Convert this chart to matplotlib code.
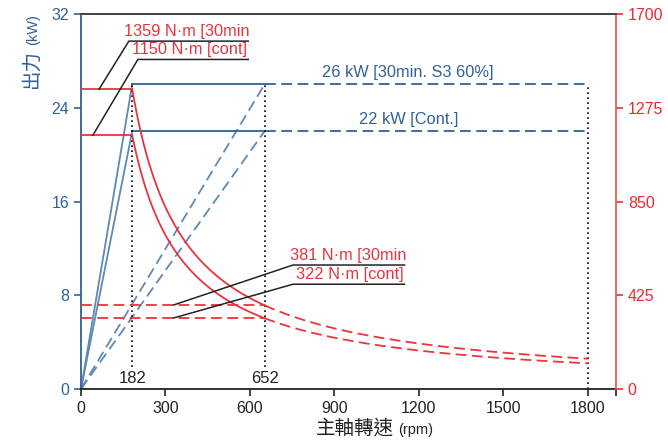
import numpy as np
import matplotlib.pyplot as plt

plt.rcParams['font.family'] = ['Liberation Sans', 'Noto Sans CJK TC', 'DejaVu Sans']

# base / corner speeds (rpm)
base_speed = 182
const_speed = 652
max_speed = 1800

# power (kW)
power_30min = 26
power_cont = 22

# torque (N·m)
torque_30min = 1359
torque_cont = 1150
torque_30min_low = 381
torque_cont_low = 322

x_ticks = [0, 300, 600, 900, 1200, 1500, 1800]
kw_ticks = [0, 8, 16, 24, 32]
nm_ticks = [0, 425, 850, 1275, 1700]

blue = '#2f6199'
blue_light = '#5f88b6'
red = '#e8343c'
red_tick = '#f0282e'
dark = '#222222'

fig = plt.figure(figsize=(6.68, 4.43), dpi=100)
ax = fig.add_axes([81 / 668, 1 - 389 / 443, 535 / 668, 375 / 443])
ax2 = ax.twinx()

# power curves
for p in [power_30min, power_cont]:
    ax.plot([0, base_speed], [0, p], color=blue_light, lw=1.3)
    ax.plot([base_speed, const_speed], [p, p], color=blue, lw=1.3)
    ax.plot([const_speed, max_speed], [p, p], color=blue, lw=1.3, ls=(0, (6, 3)))
    ax.plot([0, const_speed], [0, p], color=blue_light, lw=1.3, ls=(0, (6, 3)))

# speed markers
for s in [base_speed, const_speed]:
    ax.plot([s, s], [1.9, power_30min], color='black', lw=1.2, ls=(0, (1, 2)))
ax.plot([max_speed, max_speed], [0, power_30min], color='black', lw=1.2, ls=(0, (1, 2)))
ax.text(base_speed, 0.25, '182', ha='center', va='bottom', fontsize=12, color=dark)
ax.text(const_speed, 0.25, '652', ha='center', va='bottom', fontsize=12, color=dark)

ax.text(1160, power_30min + 0.4, '26 kW [30min. S3 60%]', ha='center', va='bottom',
        fontsize=11.8, color=blue)
ax.text(1165, power_cont + 0.4, '22 kW [Cont.]', ha='center', va='bottom',
        fontsize=11.8, color=blue)

# torque curves
n1 = np.linspace(base_speed, const_speed, 100)
n2 = np.linspace(const_speed, max_speed, 200)
for t in [torque_30min, torque_cont]:
    ax2.plot([0, base_speed], [t, t], color=red, lw=1.3)
    ax2.plot(n1, t * base_speed / n1, color=red, lw=1.3)
    ax2.plot(n2, t * base_speed / n2, color=red, lw=1.3, ls=(0, (6, 3)))
for t in [torque_30min_low, torque_cont_low]:
    ax2.plot([0, const_speed], [t, t], color=red, lw=1.3, ls=(0, (6, 3)))

# leader lines
ax2.plot([64, 170, 594], [torque_30min, 1577, 1577], color=dark, lw=1.1)
ax2.plot([42, 202, 594], [torque_cont, 1494, 1494], color=dark, lw=1.1)
ax2.plot([329, 753, 1149], [torque_30min_low, 562, 562], color=dark, lw=1.1)
ax2.plot([329, 753, 1149], [torque_cont_low, 475, 475], color=dark, lw=1.1)
ax2.text(600, 1588, '1359 N·m [30min', ha='right', va='bottom', fontsize=11.8, color=red)
ax2.text(588, 1505, '1150 N·m [cont]', ha='right', va='bottom', fontsize=11.8, color=red)
ax2.text(1155, 573, '381 N·m [30min', ha='right', va='bottom', fontsize=11.8, color=red)
ax2.text(1145, 486, '322 N·m [cont]', ha='right', va='bottom', fontsize=11.8, color=red)

ax.set_xlim(0, 1900)
ax.set_ylim(0, 32)
ax2.set_ylim(0, 1700)
ax.set_xticks(x_ticks)
ax.set_xticks([1900], minor=True)
ax.set_yticks(kw_ticks)
ax2.set_yticks(nm_ticks)

ax.tick_params(axis='x', which='both', direction='out', length=5, width=1.2,
               labelsize=11.5, colors=dark)
ax.tick_params(axis='y', direction='out', length=5, width=1.2, labelsize=11.5, colors=blue)
ax2.tick_params(axis='y', direction='out', length=5, width=1.2, labelsize=11.5, colors=red_tick)

ax.spines['left'].set_color(blue)
ax.spines['top'].set_color('#444444')
ax.spines['bottom'].set_color(dark)
ax.spines['right'].set_visible(False)
ax2.spines['right'].set_color('#e85a5a')
ax2.spines['left'].set_visible(False)
ax2.spines['top'].set_color('#444444')
ax2.spines['bottom'].set_visible(False)
for sp in list(ax.spines.values()) + list(ax2.spines.values()):
    sp.set_linewidth(1.3)

# axis titles
fig.text(32 / 668, 1 - 88 / 443, '出力', rotation=90, ha='center', va='bottom',
         fontsize=14, color=blue)
fig.text(33 / 668, 1 - 45 / 443, '(kW)', rotation=90, ha='center', va='bottom',
         fontsize=10.5, color=blue)
fig.text(394 / 668, 1 - 434 / 443, '主軸轉速', ha='right', va='baseline',
         fontsize=14, color=dark)
fig.text(398 / 668, 1 - 434 / 443, '(rpm)', ha='left', va='baseline',
         fontsize=10.5, color=dark)

fig.savefig('out.png', dpi=100)
